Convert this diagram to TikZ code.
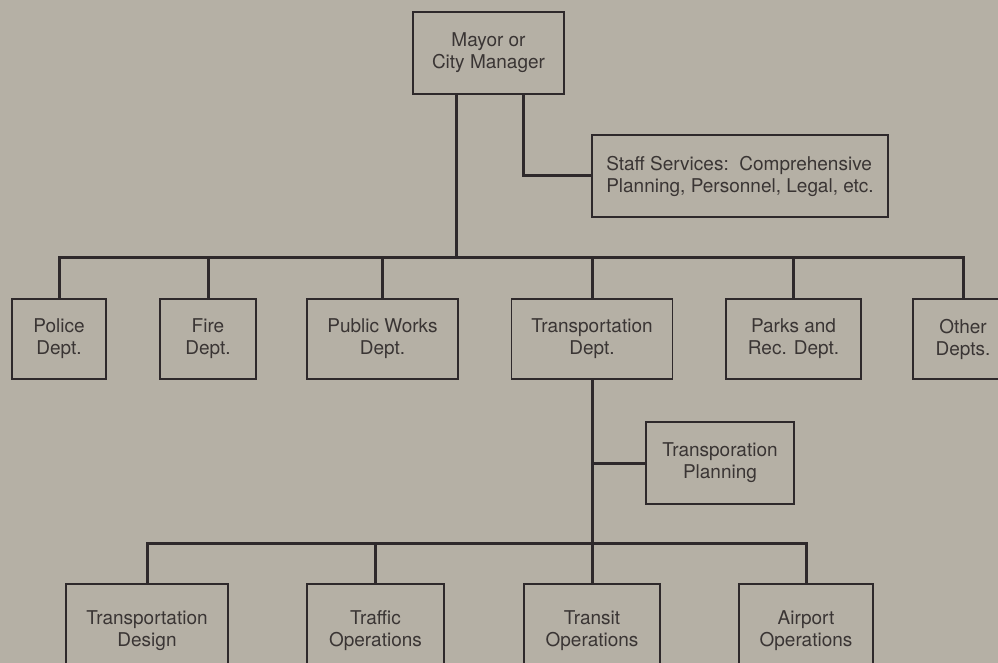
\documentclass[tikz,border=0pt]{standalone}
\usepackage{fontspec}
\setmainfont{TeX Gyre Heros}
\definecolor{paper}{RGB}{181,176,165}
\definecolor{ink}{RGB}{46,41,43}
\definecolor{txt}{RGB}{58,53,52}
\tikzset{
  unit/.style={draw=ink, line width=1.5pt, rectangle, align=center,
    text=txt, font=\fontsize{19}{22}\selectfont, inner sep=0pt},
  link/.style={draw=ink, line width=3pt, line join=miter}
}
\begin{document}
\begin{tikzpicture}[x=1pt,y=-1pt]
\fill[paper] (0,0) rectangle (998,663);
\useasboundingbox (0,0) rectangle (998,663);
\begin{scope}
\clip (0,0) rectangle (998,663);
% top level
\node[unit, minimum width=151pt, minimum height=82pt] (mayor) at (488.5,53) {Mayor or\\City Manager};
\node[unit, align=left, minimum width=296pt, minimum height=82pt] (staff) at (740,176)
  {Staff Services:\ \ Comprehensive\\Planning, Personnel, Legal, etc.};
% departments
\node[unit, minimum width=94pt,  minimum height=80pt] (police)  at (59,339)    {Police\\Dept.};
\node[unit, minimum width=96pt,  minimum height=80pt] (fire)    at (208,339)   {Fire\\Dept.};
\node[unit, minimum width=151pt, minimum height=80pt] (works)   at (382.5,339) {Public Works\\Dept.};
\node[unit, minimum width=161pt, minimum height=80pt] (transp)  at (592,339)   {Transportation\\Dept.};
\node[unit, minimum width=135pt, minimum height=80pt] (parks)   at (793.5,339) {Parks and\\Rec. Dept.};
\node[unit, minimum width=100pt, minimum height=80pt] (other)   at (963,339)   {Other\\Depts.};
% transportation department units
\node[unit, minimum width=148pt, minimum height=82pt] (tplan)   at (720,463)   {Transporation\\Planning};
\node[unit, minimum width=162pt, minimum height=94pt] (tdesign) at (147,631)   {Transportation\\Design};
\node[unit, minimum width=137pt, minimum height=94pt] (traffic) at (375.5,631) {Traffic\\Operations};
\node[unit, minimum width=136pt, minimum height=94pt] (transit) at (592,631)   {Transit\\Operations};
\node[unit, minimum width=134pt, minimum height=94pt] (airport) at (806,631)   {Airport\\Operations};
% junction points
\coordinate (trunk) at (456,257);
\coordinate (staffdrop) at (523,0);
\coordinate (lowbar) at (0,543);
% connectors from the mayor
\draw[link] (mayor.south -| trunk) -- (trunk);
\draw[link] (mayor.south -| staffdrop) |- (staff.west);
\draw[link] (police.north) -- (police.north |- trunk) -- (other.north |- trunk) -- (other.north);
\foreach \d in {fire, works, transp, parks}
  \draw[link] (\d.north) -- (\d.north |- trunk);
% connectors within transportation
\draw[link] (transp.south) -- (transit.north);
\draw[link] (transp.south |- tplan.west) -- (tplan.west);
\draw[link] (tdesign.north) -- (tdesign.north |- lowbar) -- (airport.north |- lowbar) -- (airport.north);
\draw[link] (traffic.north) -- (traffic.north |- lowbar);
\end{scope}
\end{tikzpicture}
\end{document}
